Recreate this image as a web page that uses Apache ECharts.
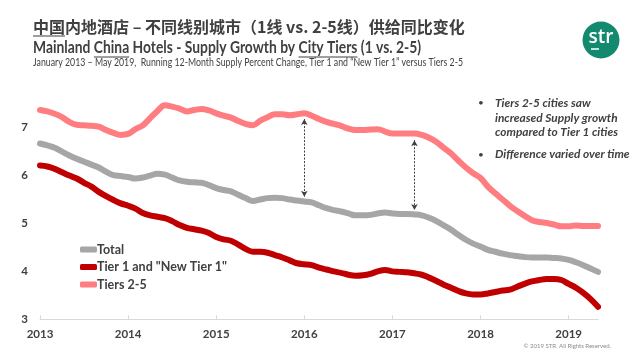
<!DOCTYPE html>
<html><head><meta charset="utf-8">
<script src="https://cdn.jsdelivr.net/npm/echarts@6/dist/echarts.min.js"></script>
<style>html,body{margin:0;padding:0;background:#fff}#c{width:640px;height:360px}</style>
</head><body><div id="c"></div>
<script>
const yearLabels = ['2013','2014','2015','2016','2017','2018','2019'];
const startYear = 2013, monthCount = 77; // Jan 2013 .. May 2019
const months = [];
for (let i = 0; i < monthCount; i++) {
  const y = startYear + Math.floor(i / 12), m = i % 12 + 1;
  months.push(y + '-' + (m < 10 ? '0' + m : m));
}
const seriesNames = ['Total', 'Tier 1 and "New Tier 1"', 'Tiers 2-5'];
const totalValues = [6.67,6.63,6.58,6.50,6.42,6.35,6.29,6.23,6.17,6.08,6.01,5.99,
  5.97,5.94,5.96,6.00,6.04,6.02,5.96,5.90,5.87,5.86,5.85,5.80,
  5.74,5.70,5.67,5.60,5.53,5.47,5.50,5.53,5.54,5.53,5.50,5.48,
  5.46,5.44,5.38,5.32,5.28,5.25,5.21,5.17,5.17,5.18,5.21,5.23,
  5.21,5.20,5.20,5.19,5.17,5.12,5.05,4.96,4.87,4.76,4.66,4.58,
  4.52,4.45,4.41,4.37,4.34,4.32,4.30,4.29,4.29,4.29,4.28,4.27,
  4.24,4.19,4.13,4.06,3.99];
const tier1Values = [6.21,6.19,6.14,6.07,6.00,5.94,5.85,5.77,5.66,5.57,5.49,5.42,
  5.37,5.31,5.22,5.17,5.14,5.11,5.05,4.97,4.91,4.88,4.85,4.80,
  4.72,4.67,4.64,4.56,4.47,4.41,4.41,4.39,4.34,4.29,4.23,4.17,
  4.15,4.13,4.08,4.04,4.00,3.97,3.93,3.91,3.92,3.95,4.00,4.03,
  4.00,3.99,3.98,3.96,3.93,3.87,3.80,3.72,3.66,3.59,3.54,3.52,
  3.52,3.54,3.57,3.60,3.62,3.68,3.74,3.79,3.82,3.84,3.84,3.82,
  3.74,3.66,3.55,3.42,3.26];
const tier25Values = [7.37,7.34,7.29,7.22,7.12,7.06,7.05,7.04,7.02,6.95,6.89,6.85,
  6.87,6.97,7.05,7.20,7.35,7.47,7.44,7.40,7.34,7.37,7.39,7.36,
  7.30,7.25,7.21,7.14,7.08,7.05,7.15,7.22,7.28,7.28,7.26,7.28,
  7.30,7.25,7.18,7.12,7.08,7.04,6.98,6.95,6.95,6.96,6.97,6.92,
  6.88,6.88,6.88,6.88,6.85,6.79,6.70,6.58,6.46,6.31,6.17,6.05,
  5.95,5.77,5.63,5.50,5.37,5.26,5.16,5.07,5.03,5.01,4.98,4.94,
  4.94,4.96,4.95,4.95,4.95];
// gap arrows: [month index, top value, bottom value]
const gapArrows = [[36, 7.18, 5.56], [51, 6.74, 5.28]];
const notes = ['Tiers 2-5 cities saw', 'increased Supply growth', 'compared to Tier 1 cities', 'Difference varied over time'];
const titleCN = '中国内地酒店 – 不同线别城市（1线 vs. 2-5线）供给同比变化';
const titleEN = 'Mainland China Hotels - Supply Growth by City Tiers (1 vs. 2-5)';
const subtitle = 'January 2013 – May 2019,  Running 12-Month Supply Percent Change, Tier 1 and “New Tier 1” versus Tiers 2-5';
const copyright = '© 2019 STR. All Rights Reserved.';

const colors = ['#A6A6A6', '#C00000', '#FF7C80'];
const txt = '#404040';

// text measuring helpers (to condense text to the reference widths)
const mctx = document.createElement('canvas').getContext('2d');
function measure(text, font) { mctx.font = font; return mctx.measureText(text).width; }
const fam = 'Lato, sans-serif';
const enFont = 'bold 17.5px ' + fam;
const enScale = 388 / measure(titleEN, enFont);
const subFont = '11px ' + fam;
const subScale = 430 / measure(subtitle, subFont);
const noteFont = 'italic bold 12px ' + fam;
const noteScale = 123 / measure(notes[2], noteFont);
const cnFont = 'bold 16px "Noto Sans CJK SC", sans-serif';
function span(full, part, font, x0, sc) {
  const idx = full.indexOf(part);
  return [x0 + sc * measure(full.slice(0, idx), font), x0 + sc * measure(full.slice(0, idx + part.length), font)];
}
const ulCN = span(titleCN, '中国', cnFont, 33, 1);
const ulChina = span(titleEN, 'China', enFont, 33, enScale);
const ulCity = span(titleEN, 'City Tiers', enFont, 33, enScale);

const chart = echarts.init(document.getElementById('c'));
const lineSeries = (name, data, color) => ({
  name, type: 'line', data, smooth: 0.4, symbol: 'none',
  lineStyle: { width: 6, color, cap: 'round', join: 'round' }, itemStyle: { color },
  z: 3
});
const s0 = lineSeries(seriesNames[0], totalValues, colors[0]);
s0.markLine = {
  silent: true, symbol: ['arrow', 'arrow'], symbolSize: [5, 6],
  lineStyle: { type: [2, 1.5], color: '#404040', width: 1 }, label: { show: false },
  data: gapArrows.map(a => [{ coord: [a[0], a[1]] }, { coord: [a[0], a[2]] }])
};
const uline = (a, y) => ({ type: 'line', shape: { x1: a[0], y1: y, x2: a[1], y2: y }, style: { stroke: txt, lineWidth: 1.2 } });
const stext = (x, y, text, font, sc, extra) => ({ type: 'text', x, y, scaleX: sc, originX: 0,
  style: Object.assign({ text, fill: txt, font, verticalAlign: 'top' }, extra || {}) });
chart.setOption({
  animation: false,
  textStyle: { fontFamily: 'Lato, sans-serif' },
  grid: { left: 40, right: 42, top: 79.8, bottom: 40.7 },
  legend: {
    orient: 'vertical', left: 75, top: 238, itemGap: 4.5,
    icon: 'roundRect', itemWidth: 17, itemHeight: 6,
    textStyle: { color: txt, fontSize: 12.5, fontWeight: 'bold', fontFamily: 'Lato, sans-serif', padding: [0, 0, 0, -5] },
    data: seriesNames
  },
  xAxis: {
    type: 'category', data: months, boundaryGap: false,
    axisLine: { lineStyle: { color: '#D9D9D9', width: 1 } },
    axisTick: { show: true, interval: (i) => i % 12 === 0, length: 4, inside: true, lineStyle: { color: '#D9D9D9' } },
    axisLabel: { interval: (i) => i % 12 === 0, formatter: (v) => yearLabels[yearLabels.indexOf(v.slice(0, 4))],
      color: txt, fontWeight: 'bold', fontSize: 11.5, margin: 9 },
    splitLine: { show: false }
  },
  yAxis: {
    type: 'value', min: 3, max: 8, interval: 1,
    axisLine: { show: false }, axisTick: { show: false }, splitLine: { show: false },
    axisLabel: { showMaxLabel: false, color: txt, fontWeight: 'bold', fontSize: 11.5, margin: 12 }
  },
  series: [s0, lineSeries(seriesNames[1], tier1Values, colors[1]), lineSeries(seriesNames[2], tier25Values, colors[2])],
  graphic: [
    { type: 'text', left: 33, top: 19, style: { text: titleCN, fill: txt, font: cnFont } },
    stext(33, 38, titleEN, enFont, enScale),
    stext(33, 57, subtitle, subFont, subScale),
    uline(ulCN, 36), uline(ulChina, 57), uline(ulCity, 57),
    { type: 'circle', shape: { cx: 601, cy: 40, r: 18.5 }, style: { fill: '#138A70' } },
    { type: 'text', x: 601, y: 38, style: { text: 'str', fill: '#fff', font: '600 19px "Open Sans", sans-serif', align: 'center', verticalAlign: 'middle' } },
    { type: 'line', shape: { x1: 591, y1: 49, x2: 599, y2: 49 }, style: { stroke: '#fff', lineWidth: 1.5 } },
    { type: 'text', left: 478, top: 98, style: { text: '•', fill: txt, font: '10px Lato, sans-serif' } },
    { type: 'text', left: 478, top: 150, style: { text: '•', fill: txt, font: '10px Lato, sans-serif' } },
    stext(495, 96, notes.slice(0, 3).join('\n'), noteFont, noteScale, { lineHeight: 14.5 }),
    stext(495, 148, notes[3], noteFont, noteScale),
    { type: 'text', right: 29, top: 343, style: { text: copyright, fill: '#8C8C8C', font: '6px Lato, sans-serif' } }
  ]
});
</script></body></html>
